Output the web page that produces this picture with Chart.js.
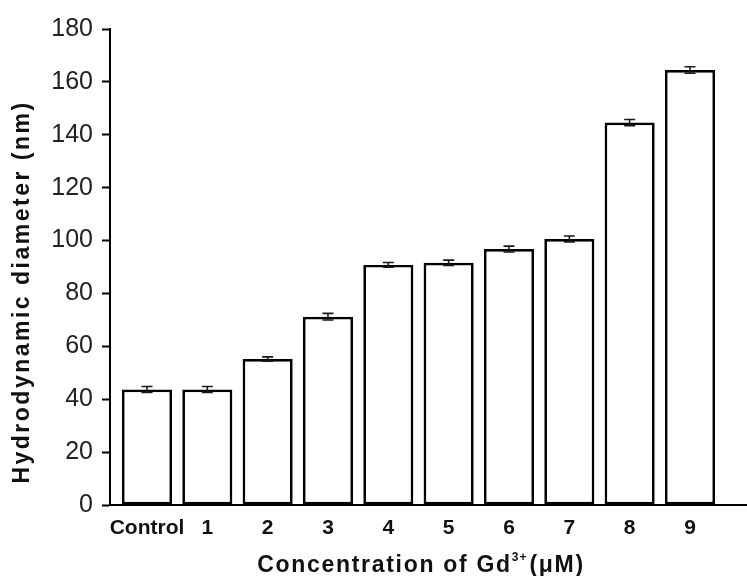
<!DOCTYPE html>
<html>
<head>
<meta charset="utf-8">
<script src="https://cdn.jsdelivr.net/npm/chart.js@4/dist/chart.umd.min.js"></script>
<style>
  html, body { margin: 0; padding: 0; background: #fff; }
  #wrap { width: 747px; height: 576px; }
</style>
</head>
<body>
<div id="wrap"><canvas id="c" width="747" height="576"></canvas></div>
<script>
// Hydrodynamic diameter of the particles versus Gd3+ concentration
const categories = ['Control', '1', '2', '3', '4', '5', '6', '7', '8', '9'];
const diameters  = [43.7, 43.7, 55.2, 71.2, 90.8, 91.6, 96.8, 100.6, 144.6, 164.5];
const errors     = [1.1, 1.1, 0.8, 1.25, 0.9, 1.0, 1.1, 1.1, 1.2, 1.25];
const yTicks     = [0, 20, 40, 60, 80, 100, 120, 140, 160, 180];

const yTitle = 'Hydrodynamic diameter (nm)';
const xTitleMain = 'Concentration of Gd';
const xTitleSup = '3+';
const xTitleTail = '(\u03bcM)';

const FONT = '"Liberation Sans", Arial, sans-serif';

// Standard-deviation whiskers on top of each bar
const errorBars = {
  id: 'errorBars',
  afterDatasetsDraw(chart) {
    const ctx = chart.ctx;
    const meta = chart.getDatasetMeta(0);
    const ys = chart.scales.y;
    ctx.save();
    ctx.strokeStyle = '#1a1a1a';
    ctx.lineWidth = 1.6;
    meta.data.forEach((bar, i) => {
      const x = bar.x;
      const top = ys.getPixelForValue(diameters[i] + errors[i]);
      const bot = ys.getPixelForValue(diameters[i] - errors[i]);
      const cap = 5.5;
      ctx.beginPath();
      ctx.moveTo(x, top); ctx.lineTo(x, bot);
      ctx.moveTo(x - cap, top); ctx.lineTo(x + cap, top);
      ctx.moveTo(x - cap, bot); ctx.lineTo(x + cap, bot);
      ctx.stroke();
    });
    ctx.restore();
  }
};

// Axis titles with letter spacing and a raised charge label
const axisTitles = {
  id: 'axisTitles',
  afterDraw(chart) {
    const ctx = chart.ctx;
    ctx.save();
    ctx.fillStyle = '#111';

    // y title, rotated
    ctx.font = 'bold 23px ' + FONT;
    ctx.letterSpacing = '2.5px';
    ctx.textAlign = 'center';
    ctx.textBaseline = 'middle';
    ctx.translate(23, 292);
    ctx.rotate(-Math.PI / 2);
    ctx.fillText(yTitle, 0, 0);
    ctx.setTransform(1, 0, 0, 1, 0, 0);

    // x title
    ctx.textAlign = 'left';
    ctx.textBaseline = 'alphabetic';
    const big = 'bold 23px ' + FONT;
    const small = 'bold 12px ' + FONT;
    ctx.letterSpacing = '1.7px';
    ctx.font = big;
    const w1 = ctx.measureText(xTitleMain).width;
    const w3 = ctx.measureText(xTitleTail).width;
    ctx.font = small;
    ctx.letterSpacing = '1px';
    const w2 = ctx.measureText(xTitleSup).width;
    const total = w1 + w2 + 2 + w3;
    let x = 421 - total / 2;
    const base = 572;
    ctx.font = big;
    ctx.letterSpacing = '1.7px';
    ctx.fillText(xTitleMain, x, base);
    x += w1;
    ctx.font = small;
    ctx.letterSpacing = '1px';
    ctx.fillText(xTitleSup, x, base - 11);
    x += w2 + 2;
    ctx.font = big;
    ctx.letterSpacing = '1.7px';
    ctx.fillText(xTitleTail, x, base);
    ctx.restore();
  }
};

new Chart(document.getElementById('c'), {
  type: 'bar',
  data: {
    datasets: [{
      data: diameters.map((v, i) => ({ x: i, y: v })),
      backgroundColor: '#ffffff',
      borderColor: '#000000',
      borderWidth: 2.7,
      borderSkipped: false,
      barPercentage: 0.83,
      categoryPercentage: 1.0
    }]
  },
  options: {
    responsive: false,
    animation: false,
    devicePixelRatio: 1,
    layout: { padding: { top: 29, right: 0, left: 0, bottom: 0 } },
    plugins: {
      legend: { display: false },
      tooltip: { enabled: false }
    },
    scales: {
      x: {
        type: 'linear',
        offset: false,
        min: -0.613,
        max: 9.945,
        afterBuildTicks(axis) {
          axis.ticks = categories.map((_, i) => ({ value: i }));
        },
        afterFit(scale) { scale.height = 71; },
        grid: { display: false, offset: false },
        border: { display: true, color: '#000', width: 2 },
        ticks: {
          autoSkip: false,
          maxRotation: 0,
          padding: 3,
          color: '#111',
          font: { family: FONT, size: 21, weight: 'bold' },
          callback: (v) => categories[v] ?? ''
        }
      },
      y: {
        min: 0,
        max: 180,
        afterBuildTicks(axis) {
          axis.ticks = yTicks.map(v => ({ value: v }));
        },
        afterFit(scale) { scale.width = 110; },
        grid: {
          display: true,
          drawOnChartArea: false,
          drawTicks: true,
          tickLength: 8,
          tickWidth: 2,
          tickColor: '#000'
        },
        border: { display: true, color: '#000', width: 2 },
        ticks: {
          padding: 9,
          color: '#222',
          font: { family: FONT, size: 25 }
        }
      }
    }
  },
  plugins: [errorBars, axisTitles]
});
</script>
</body>
</html>
